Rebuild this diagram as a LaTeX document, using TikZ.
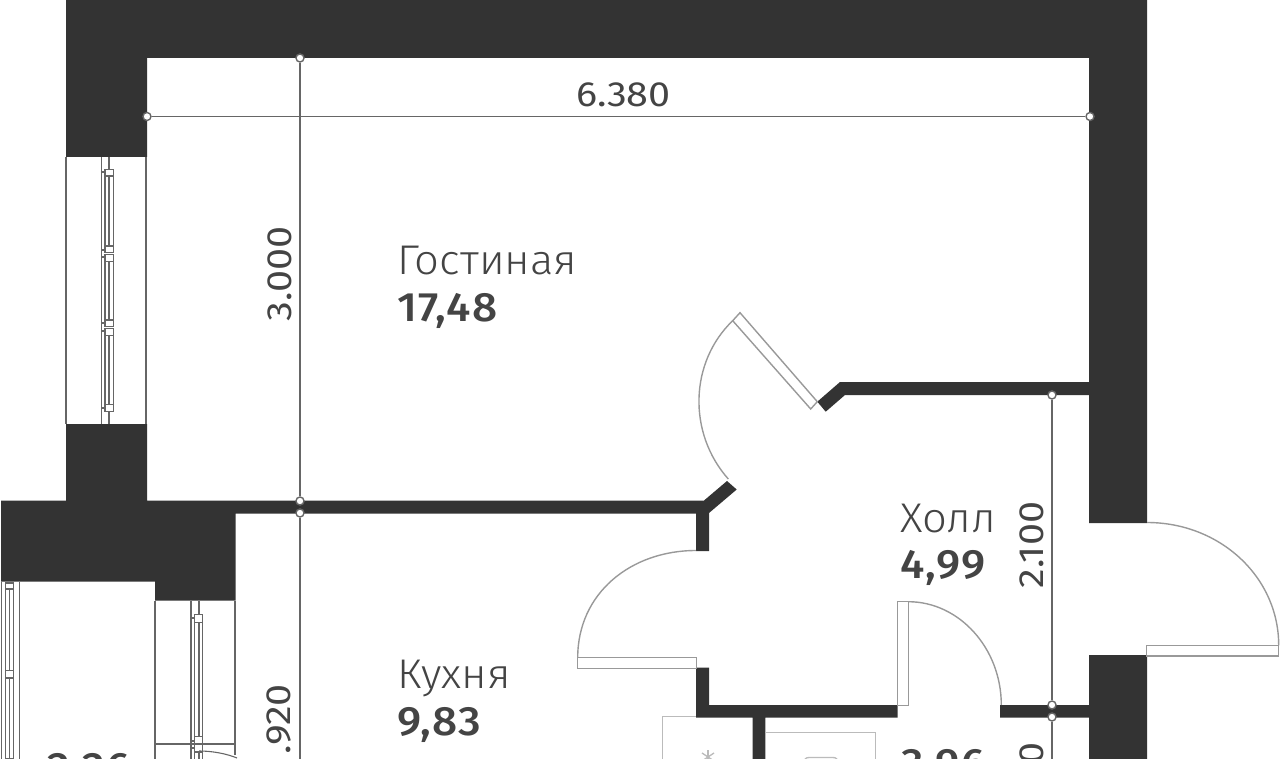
\documentclass[tikz,border=0pt]{standalone}
\usepackage{fontspec}
\setmainfont[FakeStretch=1.05]{Fira Sans Light}
\newfontfamily\numfont[FakeStretch=1.08,LetterSpace=3]{Fira Sans Medium}
\newfontfamily\dimfont[FakeStretch=1.13]{Fira Sans}
\definecolor{wallcol}{HTML}{333333}
\definecolor{textcol}{HTML}{444444}
\definecolor{dimcol}{HTML}{666666}
\definecolor{doorcol}{HTML}{999999}
\definecolor{fixcol}{HTML}{BBBBBB}
\tikzset{
  wall/.style={fill=wallcol,draw=none},
  door/.style={draw=doorcol,line width=1.4pt},
  glass/.style={draw=dimcol,line width=1.1pt},
  fixture/.style={draw=fixcol,line width=1.3pt},
  dimdot/.style={circle,draw=dimcol,fill=white,line width=1.4pt,inner sep=0pt,minimum size=8pt},
  dimline/.style={draw=dimcol,line width=1.4pt},
  dimtext/.style={text=textcol,font=\dimfont\fontsize{35}{35}\selectfont,inner sep=0pt},
  roomname/.style={text=textcol,font=\fontsize{41.5}{41.5}\selectfont,inner sep=0pt,anchor=base west},
  roomarea/.style={text=textcol,font=\numfont\fontsize{41}{41}\selectfont,inner sep=0pt,anchor=base west}
}
\begin{document}
\begin{tikzpicture}[x=1pt,y=-1pt]
  \useasboundingbox (0,0) rectangle (1280,759);
  \clip (0,0) rectangle (1280,759);
  % walls
  \fill[wall] (66,0) -- (1147,0) -- (1147,523) -- (1089,523) -- (1089,395) -- (845,395)
    -- (825.7,411.7) -- (817.3,401.7) -- (840,382) -- (1089,382) -- (1089,58) -- (147,58)
    -- (147,157) -- (66,157) -- cycle;
  \fill[wall] (66,424) -- (147,424) -- (147,500.5) -- (704,500.5) -- (727,481) -- (736.7,489.5)
    -- (709,513) -- (709,551) -- (696,551) -- (696,513.5) -- (235.5,513.5) -- (235.5,600.5)
    -- (155,600.5) -- (155,581.5) -- (1,581.5) -- (1,500.5) -- (66,500.5) -- cycle;
  \fill[wall] (696,667.7) -- (709,667.7) -- (709,705) -- (897.7,705) -- (897.7,717.7) -- (765.3,717.7)
    -- (765.3,759) -- (752.7,759) -- (752.7,717.7) -- (696,717.7) -- cycle;
  \fill[wall] (1000,705) -- (1089,705) -- (1089,655) -- (1147,655) -- (1147,759) -- (1089,759)
    -- (1089,717.7) -- (1000,717.7) -- cycle;
  % doors
  \draw[door] (740,312.7) -- (732.7,320.7) -- (810.7,409) -- (817.3,401.7) -- cycle;
  \draw[door] (732.7,320.7) .. controls (689.5,362.1) and (687.5,433) .. (728.3,479);
  \draw[door] (577.5,657.7) rectangle (696.7,668.7);
  \draw[door] (696,550.5) .. controls (631,550.5) and (577.7,593) .. (577.7,657.7);
  \draw[door] (897.7,601.7) rectangle (908.3,705.5);
  \draw[door] (908.3,601.7) .. controls (959,601.7) and (1001.3,648) .. (1001.3,705);
  \draw[door] (1146.5,645.3) rectangle (1278.7,656);
  \draw[door] (1147,522.5) .. controls (1220,522.5) and (1278.7,577) .. (1278.7,645.3);
  % top window
  \draw[glass] (66,157) -- (66,424);
  \draw[glass] (146,157) -- (146,424);
  \draw[glass] (101.7,157) -- (101.7,424);
  \draw[glass] (109,157) -- (109,169.3);
  \draw[glass] (109,411.7) -- (109,424);
  \draw[glass] (105,169.3) rectangle (113.3,176);
  \draw[glass] (105,246) rectangle (113.3,252.7);
  \draw[glass] (105,254.7) rectangle (113.3,261.7);
  \draw[glass] (105,320) rectangle (113.3,326.7);
  \draw[glass] (105,328.3) rectangle (113.3,335.3);
  \draw[glass] (105,404.3) rectangle (113.3,411.7);
  \draw[glass] (105,176) rectangle (113.3,246);
  \draw[glass] (105,261.7) rectangle (113.3,320);
  \draw[glass] (105,335.3) rectangle (113.3,404.3);
  \draw[glass] (109,176) -- (109,246);
  \draw[glass] (109,261.7) -- (109,320);
  \draw[glass] (109,335.3) -- (109,404.3);
  \draw[glass] (101.7,172) -- (105,172);
  \draw[glass] (101.7,250) -- (105,250);
  \draw[glass] (101.7,257) -- (105,257);
  \draw[glass] (101.7,323) -- (105,323);
  \draw[glass] (101.7,331) -- (105,331);
  \draw[glass] (101.7,408) -- (105,408);
  % left balcony window
  \draw[glass] (1.7,581.5) -- (1.7,759);
  \draw[glass] (19.3,581.5) -- (19.3,759);
  \draw[glass] (5.7,583) rectangle (13.3,589);
  \draw[glass] (5.7,589) rectangle (13.3,670.7);
  \draw[glass] (5.7,670.7) rectangle (13.3,678);
  \draw[glass] (5.7,678) rectangle (13.3,759);
  \draw[glass] (9.5,589) -- (9.5,670.7);
  \draw[glass] (9.5,678) -- (9.5,759);
  % kitchen window
  \draw[glass] (155,600.5) -- (155,759);
  \draw[glass] (235,600.5) -- (235,755);
  \draw[glass] (155,744) -- (235,744);
  \draw[glass] (191,600.5) -- (191,759);
  \draw[glass] (199,600.5) -- (199,614.3);
  \draw[glass] (194.3,614.3) rectangle (202.3,622.3);
  \draw[glass] (194.3,622.3) rectangle (202.3,736.7);
  \draw[glass] (199,622.3) -- (199,736.7);
  \draw[glass] (194.3,736.7) rectangle (202.3,744);
  \draw[glass] (194.3,744) rectangle (202.3,752);
  \draw[glass] (194.3,752) -- (194.3,759);
  \draw[glass] (202.3,752) -- (202.3,759);
  \draw[glass] (199,752) -- (199,759);
  \draw[glass] (191,618) -- (194.3,618);
  \draw[glass] (191,741) -- (194.3,741);
  \draw[glass] (191,748) -- (194.3,748);
  \draw[glass] (199,751) .. controls (212,751) and (226,753.5) .. (237,758);
  % fixtures
  \draw[fixture] (696,716.7) -- (662.7,716.7) -- (662.7,759);
  \draw[fixture] (765.3,732.3) -- (875.3,732.3) -- (875.3,759);
  \draw[fixture] (805,759) .. controls (806,757.5) and (808,757.5) .. (810,757.5) -- (832,757.5)
    .. controls (834,757.5) and (836,757.5) .. (837,759);
  \draw[fixture] (708,750) -- (708,759);
  \draw[fixture] (702,753) -- (714,761);
  \draw[fixture] (714,753) -- (702,761);
  % dimensions
  \draw (147,116.5) node[dimdot] (d0){}
        (1090,116.5) node[dimdot] (d1){}
        (300,58) node[dimdot] (d2){}
        (300,501) node[dimdot] (d3){}
        (300,513) node[dimdot] (d4){}
        (1052,395) node[dimdot] (d6){}
        (1052,705) node[dimdot] (d7){}
        (1052,717) node[dimdot] (d8){};
  \coordinate (d5) at (300,759);
  \coordinate (d9) at (1052,759);
  \begin{scope}[-]
    \draw[dimline] (d0) to (d1);
    \draw[dimline] (d2) to (d3);
    \draw[dimline] (d4) to (d5);
    \draw[dimline] (d6) to (d7);
    \draw[dimline] (d8) to (d9);
  \end{scope}
  \node[dimtext,anchor=base] (w0) at (623.5,107) {6.380};
  \node[dimtext,anchor=base,rotate=90] (h0) at (291,274) {3.000};
  \node[dimtext,anchor=base,rotate=90] (h1) at (1043,545) {2.100};
  \node[dimtext,anchor=base east,rotate=90] (h2) at (290,684) {.920};
  \node[dimtext,anchor=base east,rotate=90] (h3) at (1043,742) {0};
  % rooms
  \node[roomname] (living) at (397,275) {Гостиная};
  \node[roomarea] (livinga) at (397,322) {17,48};
  \node[roomname] (kitchen) at (397,688) {Кухня};
  \node[roomarea] (kitchena) at (397,735) {9,83};
  \node[roomname] (hall) at (900,532) {Холл};
  \node[roomarea] (halla) at (900,578) {4,99};
  \node[roomarea] (balc) at (47,781) {2,26};
  \node[roomarea] (bath) at (901,777) {3,96};
\end{tikzpicture}
\end{document}
